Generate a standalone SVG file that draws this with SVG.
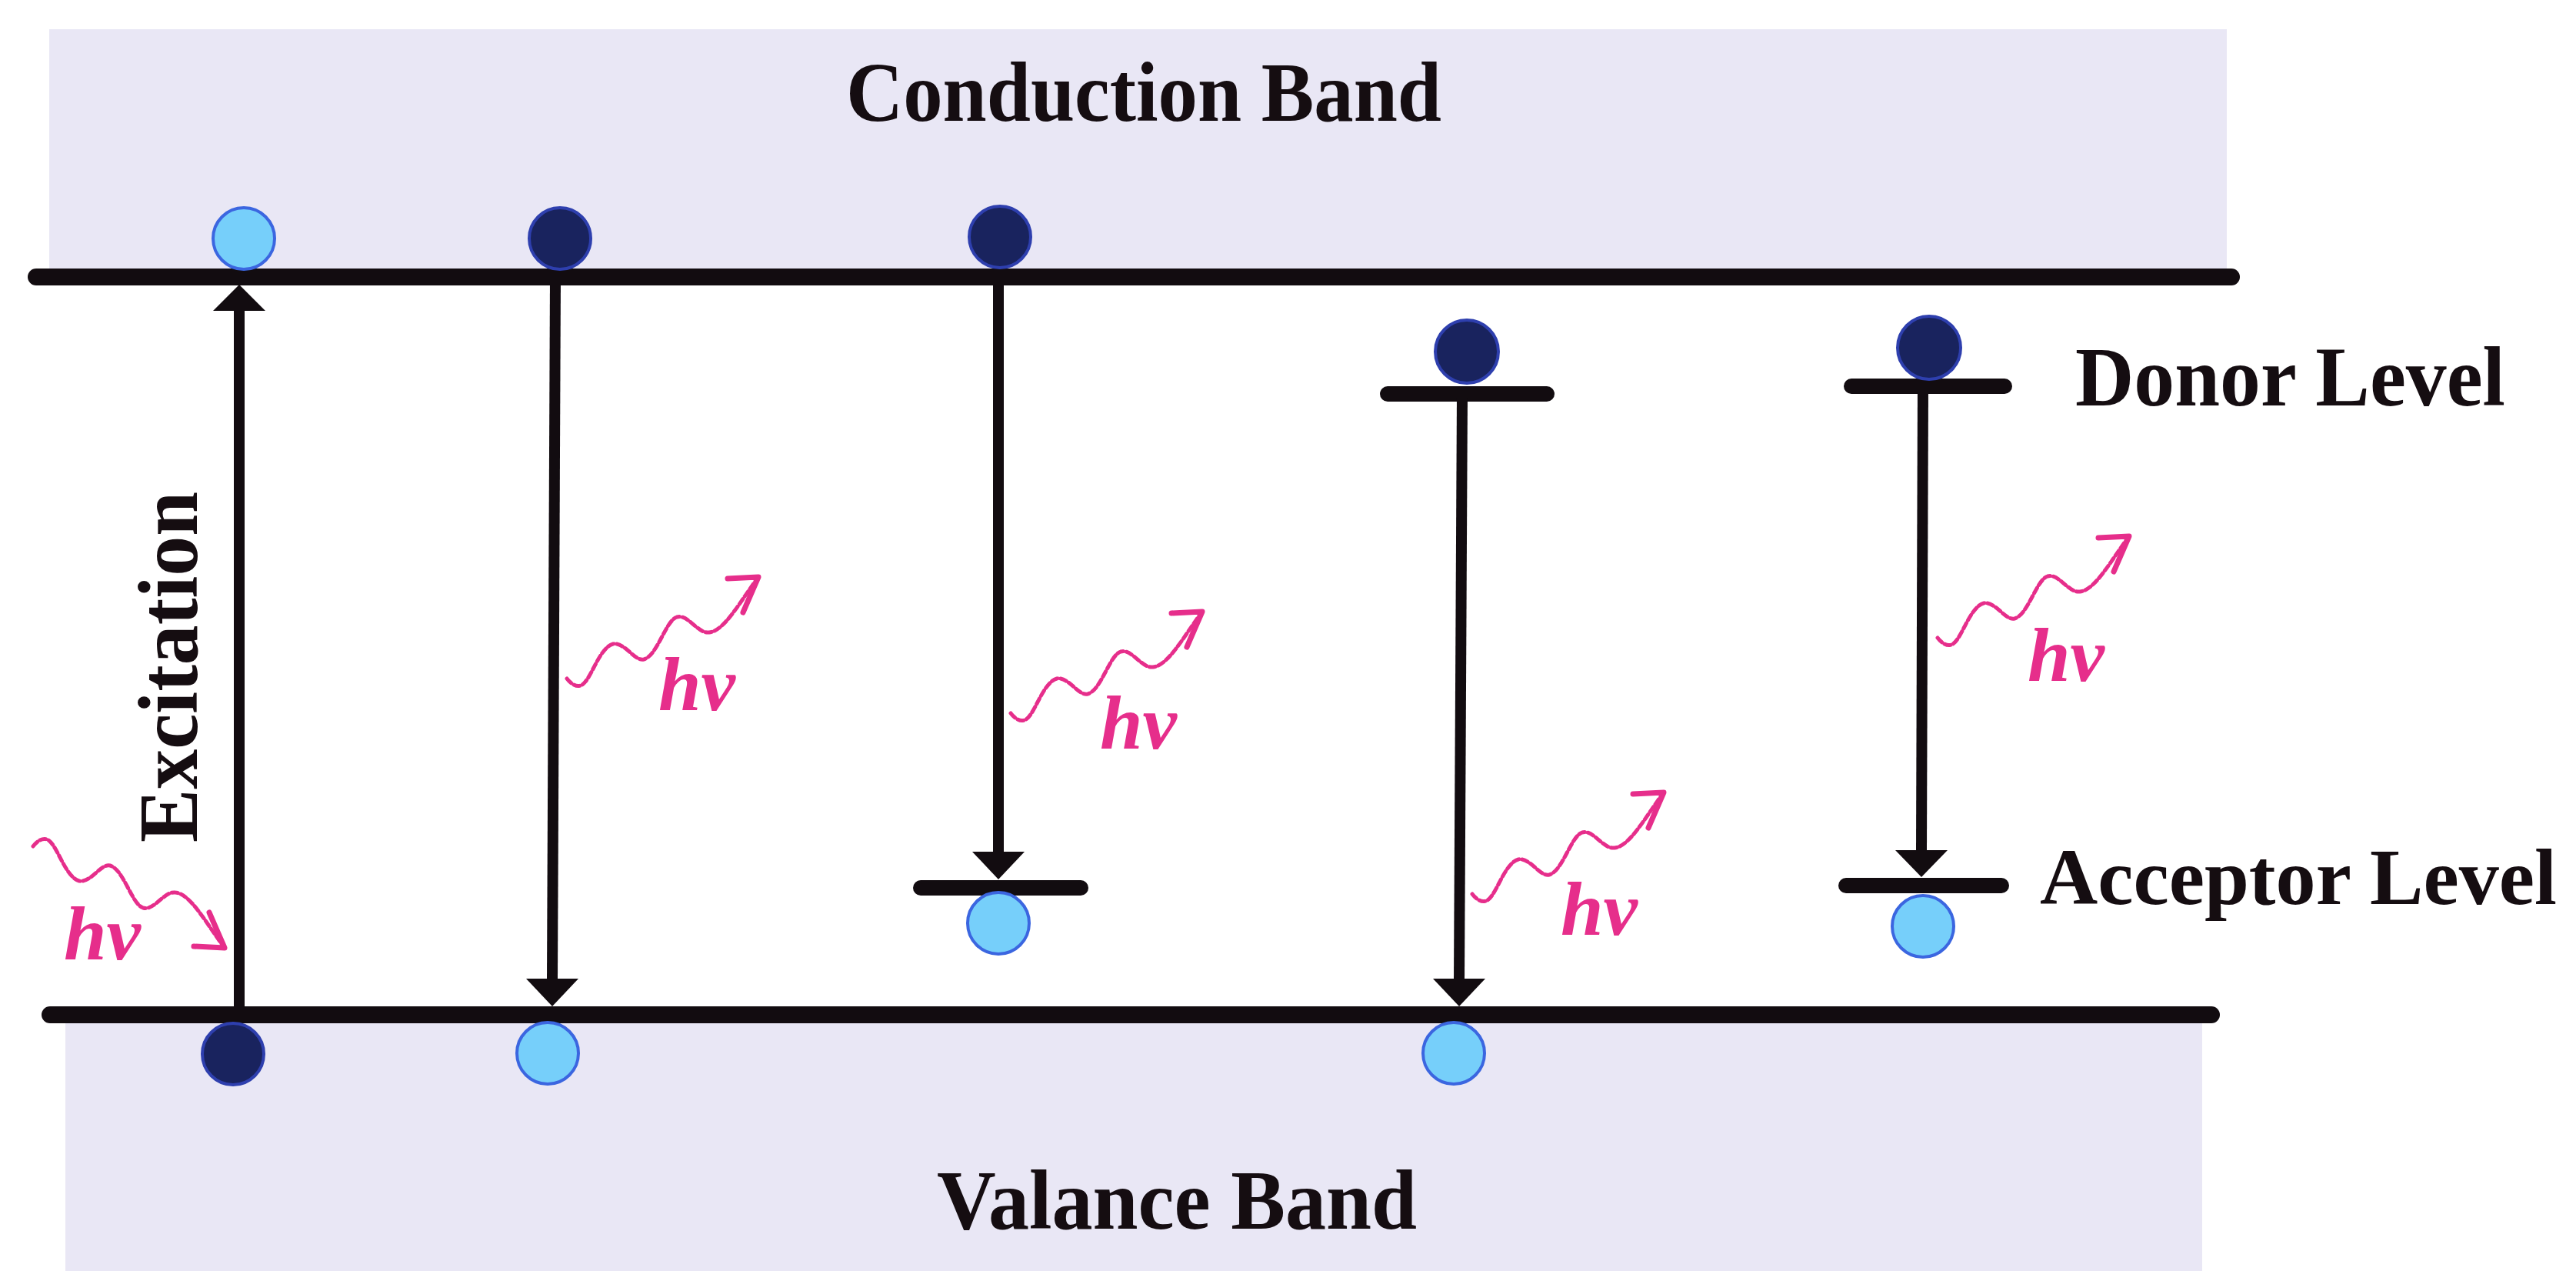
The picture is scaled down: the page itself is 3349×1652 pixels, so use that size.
<svg xmlns="http://www.w3.org/2000/svg" width="3349" height="1652" viewBox="0 0 3349 1652">
<style>
.band{fill:#e9e7f5}
.edge{stroke:#120c10;stroke-width:22;stroke-linecap:round;fill:none}
.lvl{stroke:#120c10;stroke-width:20;stroke-linecap:round;fill:none}
.tr{stroke:#120c10;stroke-width:14;fill:none}
.ah{fill:#120c10}
.eD{fill:#19235e;stroke:#2e3fae;stroke-width:4}
.eL{fill:#76cffa;stroke:#3b66e0;stroke-width:4}
.lbl{font-family:"Liberation Serif","Times New Roman",serif;font-weight:bold;font-size:110px;fill:#150d11}
.hv{font-family:"Liberation Serif","Times New Roman",serif;font-weight:bold;font-style:italic;font-size:100px;fill:#e62e8b}
.wave{stroke:#e62e8b;stroke-width:5;fill:none;stroke-dasharray:8 4;stroke-linecap:round}
.whead{stroke:#e62e8b;stroke-width:7;fill:none;stroke-linecap:round;stroke-linejoin:round}
</style>
<defs>
<g id="photon">
<path class="wave" d="M0,0 C6,8 14,12 20,8 C32,0 42,-40 60,-45 C75,-48 88,-22 100,-25 C118,-30 128,-75 143,-80 C158,-84 170,-58 185,-60 C205,-62 225,-100 249,-132"/>
<path class="whead" d="M209,-130 L249,-132 L229,-86"/>
</g>
</defs>
<rect width="3349" height="1652" fill="#ffffff"/>
<g id="conduction-band">
<rect class="band" x="64" y="38" width="2831" height="322"/>
<text class="lbl" x="1100" y="157" textLength="774" lengthAdjust="spacingAndGlyphs">Conduction Band</text>
</g>
<g id="valence-band">
<rect class="band" x="85" y="1319" width="2778" height="333"/>
<text class="lbl" x="1218" y="1597" textLength="624" lengthAdjust="spacingAndGlyphs">Valance Band</text>
</g>
<g id="band-edges">
<line class="edge" x1="47" y1="360" x2="2901" y2="360"/>
<line class="edge" x1="65" y1="1319" x2="2875" y2="1319"/>
</g>
<g id="levels">
<line class="lvl" x1="1197" y1="1154" x2="1405" y2="1154"/>
<line class="lvl" x1="1804" y1="512" x2="2011" y2="512"/>
<line class="lvl" x1="2407" y1="502" x2="2606" y2="502"/>
<line class="lvl" x1="2400" y1="1151" x2="2602" y2="1151"/>
</g>
<g id="labels">
<text class="lbl" x="2698" y="527" textLength="559" lengthAdjust="spacingAndGlyphs">Donor Level</text>
<text class="lbl" x="2652" y="1175" style="font-size:104px" textLength="672" lengthAdjust="spacingAndGlyphs">Acceptor Level</text>
<text class="lbl" transform="translate(256,1095) rotate(-90)" x="0" y="0" textLength="456" lengthAdjust="spacingAndGlyphs">Excitation</text>
</g>
<g id="connectors">
<line class="tr" x1="311" y1="1319" x2="311" y2="400"/>
<polygon class="ah" points="311,370 345,404 277,404"/>
<line class="tr" x1="722" y1="360" x2="718" y2="1275"/>
<polygon class="ah" points="718,1308 752,1272 684,1272"/>
<line class="tr" x1="1298" y1="360" x2="1298" y2="1110"/>
<polygon class="ah" points="1298,1143 1332,1107 1264,1107"/>
<line class="tr" x1="1901" y1="512" x2="1897" y2="1275"/>
<polygon class="ah" points="1897,1308 1931,1272 1863,1272"/>
<line class="tr" x1="2500" y1="502" x2="2498" y2="1108"/>
<polygon class="ah" points="2498,1140 2532,1105 2464,1105"/>
</g>
<g id="electrons">
<circle class="eL" cx="317" cy="310" r="40"/>
<circle class="eD" cx="728" cy="310" r="40"/>
<circle class="eD" cx="1300" cy="308" r="40"/>
<circle class="eD" cx="1907" cy="457" r="41"/>
<circle class="eD" cx="2508" cy="452" r="41"/>
<circle class="eD" cx="303" cy="1370" r="40"/>
<circle class="eL" cx="712" cy="1369" r="40"/>
<circle class="eL" cx="1890" cy="1369" r="40"/>
<circle class="eL" cx="1298" cy="1200" r="40"/>
<circle class="eL" cx="2500" cy="1204" r="40"/>
</g>
<g id="photons">
<use href="#photon" transform="translate(43,1100) scale(1,-1)"/>
<text class="hv" x="83" y="1247">hν</text>
<use href="#photon" transform="translate(737,882)"/>
<text class="hv" x="856" y="923">hν</text>
<use href="#photon" transform="translate(1314,927)"/>
<text class="hv" x="1430" y="973">hν</text>
<use href="#photon" transform="translate(1914,1162)"/>
<text class="hv" x="2029" y="1215">hν</text>
<use href="#photon" transform="translate(2519,829)"/>
<text class="hv" x="2636" y="885">hν</text>
</g>
</svg>
